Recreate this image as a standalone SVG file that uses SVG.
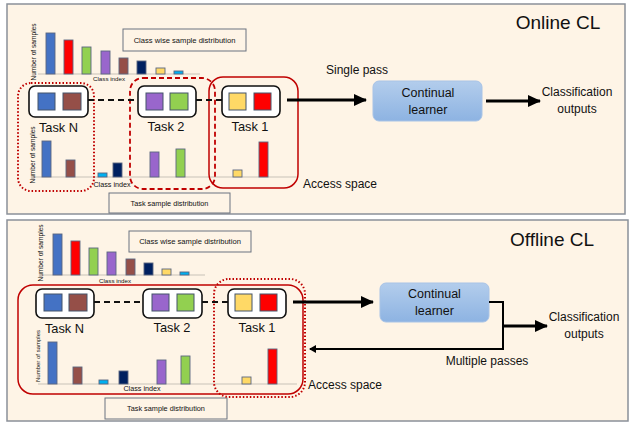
<svg xmlns="http://www.w3.org/2000/svg" width="635" height="424" viewBox="0 0 635 424">
<defs>
<linearGradient id="lg" x1="0" y1="0" x2="0" y2="1"><stop offset="0" stop-color="#B3CDEC"/><stop offset="1" stop-color="#8DB3E2"/></linearGradient>
<marker id="ah" markerWidth="8" markerHeight="8" refX="6" refY="4" orient="auto" markerUnits="userSpaceOnUse"><path d="M0,0 L7,4 L0,8 z" fill="#000"/></marker>
<marker id="ahb" markerWidth="14" markerHeight="12" refX="12" refY="6" orient="auto" markerUnits="userSpaceOnUse"><path d="M0,0 L13,6 L0,12 z" fill="#000"/></marker>
<style>
.panel{fill:#FEF4E6;stroke:#8A9099;stroke-width:1.5}
.t{font-family:"Liberation Sans",Arial,sans-serif;fill:#111}
.lbl{fill:#FEF4E6;stroke:#6B7380;stroke-width:1}
.task{fill:#fff;stroke:#111;stroke-width:1.6}
.sq{stroke:#44546A;stroke-width:1}
.bar{stroke:#5B6680;stroke-width:0.9}
.base{stroke:#C8C2B8;stroke-width:1}
.blue{fill:#4472C4}.red{fill:#FF0000}.green{fill:#92D050}.purple{fill:#9966CC}.brown{fill:#954F48}.navy{fill:#002060}.yellow{fill:#FFD966}.cyan{fill:#00B0F0}
.dash{stroke:#111;stroke-width:2.2;stroke-dasharray:6,4;fill:none}
.thick{stroke:#000;stroke-width:3.2;fill:none}
.thin{stroke:#000;stroke-width:2;fill:none}
.cl{fill:url(#lg);stroke:#A8C3E6;stroke-width:1}
.rs{fill:none;stroke:#C00000;stroke-width:1.5}
.rd{fill:none;stroke:#C00000;stroke-width:1.8;stroke-dasharray:5,3}
.rdot{fill:none;stroke:#C00000;stroke-width:2;stroke-dasharray:1.5,2}
</style>
</defs>
<rect width="635" height="424" fill="#fff"/>

<!-- ===== Top panel: Online CL ===== -->
<g id="panel-online">
<rect class="panel" x="7" y="4" width="618" height="210"/>
<text class="t" x="558" y="29" font-size="19" text-anchor="middle">Online CL</text>
</g>

<g id="online-classwise-chart">
<line class="base" x1="38" y1="74" x2="200" y2="74"/>
<rect class="bar blue" x="46" y="33" width="9" height="41"/>
<rect class="bar red" x="64" y="40" width="9" height="34"/>
<rect class="bar green" x="82" y="47" width="9" height="27"/>
<rect class="bar purple" x="101" y="51" width="9" height="23"/>
<rect class="bar brown" x="119" y="58" width="9" height="16"/>
<rect class="bar navy" x="137" y="61" width="9" height="13"/>
<rect class="bar yellow" x="156" y="68" width="9" height="6"/>
<rect class="bar cyan" x="174" y="71" width="9" height="3"/>
<text class="t" font-size="6.6" transform="translate(35.5,52) rotate(-90)" text-anchor="middle">Number of samples</text>
<text class="t" x="109" y="81" font-size="6.2" text-anchor="middle">Class index</text>
</g>
<g id="online-classwise-label">
<rect class="lbl" x="123" y="29" width="123" height="22"/>
<text class="t" x="184.5" y="43" font-size="7.6" text-anchor="middle">Class wise sample distribution</text>
</g>

<g id="online-task-chart">
<line class="base" x1="33" y1="177" x2="297" y2="177"/>
<rect class="bar blue" x="42" y="141" width="9" height="36"/>
<rect class="bar brown" x="66" y="160" width="9" height="17"/>
<rect class="bar cyan" x="98" y="173" width="9" height="4"/>
<rect class="bar navy" x="113" y="163" width="9" height="14"/>
<rect class="bar purple" x="150" y="152" width="9" height="25"/>
<rect class="bar green" x="176" y="149" width="9" height="28"/>
<rect class="bar yellow" x="233" y="170" width="9" height="7"/>
<rect class="bar red" x="259" y="142" width="9" height="35"/>
<text class="t" font-size="6.6" transform="translate(34.5,155) rotate(-90)" text-anchor="middle">Number of samples</text>
<text class="t" x="112" y="187" font-size="7.2" text-anchor="middle">Class index</text>
</g>
<g id="online-task-label">
<rect class="lbl" x="109" y="193" width="121" height="20"/>
<text class="t" x="169.5" y="206" font-size="7.3" text-anchor="middle">Task sample distribution</text>
</g>

<g id="online-taskN">
<rect class="task" x="29" y="86" width="59" height="31" rx="6"/>
<rect class="sq blue" x="38" y="93" width="17" height="17"/>
<rect class="sq brown" x="63" y="93" width="18" height="17"/>
<text class="t" x="58.5" y="132" font-size="12.8" text-anchor="middle">Task N</text>
</g>
<g id="online-task2">
<rect class="task" x="138" y="86" width="58" height="31" rx="6"/>
<rect class="sq purple" x="146" y="93" width="17" height="17"/>
<rect class="sq green" x="170" y="93" width="18" height="17"/>
<text class="t" x="166" y="131" font-size="12.8" text-anchor="middle">Task 2</text>
</g>
<g id="online-task1">
<rect class="task" x="222" y="86" width="58" height="31" rx="6"/>
<rect class="sq yellow" x="229" y="93" width="17" height="17"/>
<rect class="sq red" x="254" y="93" width="17" height="17"/>
<text class="t" x="250" y="131" font-size="12.8" text-anchor="middle">Task 1</text>
</g>

<g id="online-access">
<rect class="rdot" x="18" y="83" width="76" height="108" rx="13"/>
<rect class="rd" x="130" y="78" width="85" height="111" rx="13"/>
<rect class="rs" x="209" y="77" width="89" height="111" rx="14"/>
<text class="t" x="303" y="188" font-size="12">Access space</text>
</g>

<g id="online-learner">
<rect class="cl" x="373" y="81" width="109" height="40" rx="6"/>
<text class="t" x="428" y="97" font-size="12.5" text-anchor="middle">Continual</text>
<text class="t" x="428" y="114" font-size="12.5" text-anchor="middle">learner</text>
</g>
<g id="online-output">
<text class="t" x="577" y="96" font-size="12" text-anchor="middle">Classification</text>
<text class="t" x="577" y="113" font-size="12" text-anchor="middle">outputs</text>
</g>

<!-- ===== Bottom panel: Offline CL ===== -->
<g id="panel-offline">
<rect class="panel" x="7" y="220" width="621" height="201"/>
<text class="t" x="552" y="246" font-size="19" text-anchor="middle">Offline CL</text>
</g>

<g id="offline-classwise-chart">
<line class="base" x1="43" y1="275" x2="205" y2="275"/>
<rect class="bar blue" x="53" y="234" width="9" height="41"/>
<rect class="bar red" x="71" y="241" width="9" height="34"/>
<rect class="bar green" x="89" y="248" width="9" height="27"/>
<rect class="bar purple" x="107" y="252" width="9" height="23"/>
<rect class="bar brown" x="126" y="259" width="9" height="16"/>
<rect class="bar navy" x="144" y="263" width="9" height="12"/>
<rect class="bar yellow" x="162" y="269" width="9" height="6"/>
<rect class="bar cyan" x="180" y="272" width="9" height="3"/>
<text class="t" font-size="6.6" transform="translate(42.5,253) rotate(-90)" text-anchor="middle">Number of samples</text>
<text class="t" x="115" y="283" font-size="6.2" text-anchor="middle">Class index</text>
</g>
<g id="offline-classwise-label">
<rect class="lbl" x="129" y="231" width="122" height="21"/>
<text class="t" x="190" y="244" font-size="7.6" text-anchor="middle">Class wise sample distribution</text>
</g>

<g id="offline-task-chart">
<line class="base" x1="38" y1="384" x2="297" y2="384"/>
<rect class="bar blue" x="48" y="342" width="9" height="42"/>
<rect class="bar brown" x="73" y="367" width="9" height="17"/>
<rect class="bar cyan" x="99" y="380" width="9" height="4"/>
<rect class="bar navy" x="119" y="371" width="9" height="13"/>
<rect class="bar purple" x="157" y="360" width="9" height="24"/>
<rect class="bar green" x="181" y="356" width="9" height="28"/>
<rect class="bar yellow" x="242" y="377" width="9" height="7"/>
<rect class="bar red" x="268" y="349" width="9" height="35"/>
<text class="t" font-size="6" transform="translate(40,356) rotate(-90)" text-anchor="middle">Number of samples</text>
<text class="t" x="142" y="391" font-size="7.2" text-anchor="middle">Class index</text>
</g>
<g id="offline-task-label">
<rect class="lbl" x="105" y="398" width="122" height="21"/>
<text class="t" x="166" y="411" font-size="7.3" text-anchor="middle">Task sample distribution</text>
</g>

<g id="offline-taskN">
<rect class="task" x="36" y="289" width="58" height="29" rx="6"/>
<rect class="sq blue" x="44" y="294" width="18" height="17"/>
<rect class="sq brown" x="69" y="294" width="18" height="17"/>
<text class="t" x="64.5" y="333" font-size="12.8" text-anchor="middle">Task N</text>
</g>
<g id="offline-task2">
<rect class="task" x="143" y="289" width="59" height="29" rx="6"/>
<rect class="sq purple" x="152" y="294" width="17" height="17"/>
<rect class="sq green" x="177" y="294" width="17" height="17"/>
<text class="t" x="172" y="332" font-size="12.8" text-anchor="middle">Task 2</text>
</g>
<g id="offline-task1">
<rect class="task" x="228" y="289" width="58" height="29" rx="6"/>
<rect class="sq yellow" x="235" y="294" width="17" height="17"/>
<rect class="sq red" x="260" y="294" width="17" height="17"/>
<text class="t" x="257" y="332" font-size="12.8" text-anchor="middle">Task 1</text>
</g>

<g id="offline-access">
<rect class="rs" x="18" y="285" width="285" height="109" rx="15"/>
<rect class="rdot" x="214" y="279" width="91" height="118" rx="15"/>
<text class="t" x="308" y="389" font-size="12">Access space</text>
</g>

<g id="offline-learner">
<rect class="cl" x="380" y="283" width="109" height="39" rx="6"/>
<text class="t" x="434.5" y="298" font-size="12.5" text-anchor="middle">Continual</text>
<text class="t" x="434.5" y="315" font-size="12.5" text-anchor="middle">learner</text>
</g>
<g id="offline-output">
<text class="t" x="584" y="321" font-size="12" text-anchor="middle">Classification</text>
<text class="t" x="584" y="338" font-size="12" text-anchor="middle">outputs</text>
</g>

<!-- ===== Connectors ===== -->
<g id="connectors">
<line class="dash" x1="88" y1="100" x2="138" y2="100"/>
<line class="dash" x1="196" y1="100" x2="222" y2="100"/>
<line class="thick" x1="287" y1="100" x2="366" y2="100" marker-end="url(#ahb)"/>
<text class="t" x="357" y="74" font-size="12" text-anchor="middle">Single pass</text>
<line class="thick" x1="486" y1="101" x2="540" y2="101" marker-end="url(#ahb)"/>

<line class="dash" x1="94" y1="302" x2="143" y2="302"/>
<line class="dash" x1="202" y1="302" x2="228" y2="302"/>
<line class="thick" x1="293" y1="302" x2="373" y2="302" marker-end="url(#ahb)"/>
<polyline class="thin" points="489,302 503,302 503,349 310,349" marker-end="url(#ah)"/>
<line class="thick" x1="503" y1="326" x2="547" y2="326" marker-end="url(#ahb)"/>
<text class="t" x="487" y="365" font-size="12" text-anchor="middle">Multiple passes</text>
</g>
</svg>
